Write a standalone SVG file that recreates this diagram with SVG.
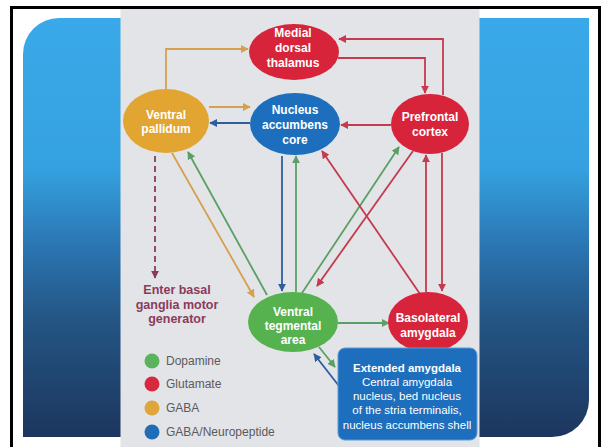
<svg xmlns="http://www.w3.org/2000/svg" width="606" height="447" viewBox="0 0 606 447">
  <style>
    .nt { font-family: "Liberation Sans", Arial, sans-serif; font-size: 12px; font-weight: bold; fill: #ffffff; text-anchor: middle; }
    .lg { font-family: "Liberation Sans", Arial, sans-serif; font-size: 12px; fill: #5a5a5e; }
    .en { font-family: "Liberation Sans", Arial, sans-serif; font-size: 12.5px; font-weight: bold; fill: #8c3a5c; text-anchor: middle; }
    .bx { font-family: "Liberation Sans", Arial, sans-serif; font-size: 11.5px; fill: #ffffff; text-anchor: middle; }
    .c { fill: none; stroke-width: 1.8; }
    .o { stroke: #d6a050; }
    .r { stroke: #c43a50; }
    .g { stroke: #5c9f66; }
    .b { stroke: #2f5e9e; }
    .p { stroke: #8c3a5c; stroke-dasharray: 6 4; }
  </style>
  <defs>
    <linearGradient id="panelGrad" x1="0" y1="18" x2="0" y2="437" gradientUnits="userSpaceOnUse">
      <stop offset="0" stop-color="#3aa9e9"/>
      <stop offset="0.36" stop-color="#35a1e0"/>
      <stop offset="0.55" stop-color="#2a74b0"/>
      <stop offset="0.72" stop-color="#245584"/>
      <stop offset="1" stop-color="#1c365e"/>
    </linearGradient>
    <marker id="aO" viewBox="0 0 10 10" refX="9" refY="5" markerWidth="4.5" markerHeight="4.5" orient="auto" markerUnits="strokeWidth"><path d="M0,0 L10,5 L0,10 Z" fill="#d6a050"/></marker>
    <marker id="aR" viewBox="0 0 10 10" refX="9" refY="5" markerWidth="4.5" markerHeight="4.5" orient="auto" markerUnits="strokeWidth"><path d="M0,0 L10,5 L0,10 Z" fill="#c43a50"/></marker>
    <marker id="aG" viewBox="0 0 10 10" refX="9" refY="5" markerWidth="4.5" markerHeight="4.5" orient="auto" markerUnits="strokeWidth"><path d="M0,0 L10,5 L0,10 Z" fill="#5c9f66"/></marker>
    <marker id="aB" viewBox="0 0 10 10" refX="9" refY="5" markerWidth="4.5" markerHeight="4.5" orient="auto" markerUnits="strokeWidth"><path d="M0,0 L10,5 L0,10 Z" fill="#2f5e9e"/></marker>
    <marker id="aP" viewBox="0 0 10 10" refX="9" refY="5" markerWidth="4.5" markerHeight="4.5" orient="auto" markerUnits="strokeWidth"><path d="M0,0 L10,5 L0,10 Z" fill="#8c3a5c"/></marker>
  </defs>

  <!-- frame and background -->
  <rect x="0" y="0" width="606" height="447" fill="#ffffff"/>
  <rect x="11.5" y="7.5" width="588" height="470" fill="#ffffff" stroke="#000000" stroke-width="3"/>
  <path d="M59,18 H589 V400 A37,37 0 0 1 552,437 H23 V54 A36,36 0 0 1 59,18 Z" fill="url(#panelGrad)"/>
  <rect x="120.5" y="9" width="359" height="438" fill="#e2e4e7"/>

  <!-- connectors -->
  <g id="connectors">
    <path class="c o" d="M166,89 V49 H248" marker-end="url(#aO)"/>
    <path class="c o" d="M209,107 H250" marker-end="url(#aO)"/>
    <path class="c b" d="M250,123 H210" marker-end="url(#aB)"/>
    <path class="c r" d="M443,95 V39 H339" marker-end="url(#aR)"/>
    <path class="c r" d="M338,58 H425 V93" marker-end="url(#aR)"/>
    <path class="c r" d="M391,125 H341" marker-end="url(#aR)"/>
    <path class="c p" d="M155,156 V278" marker-end="url(#aP)"/>
    <path class="c o" d="M172,153 L254,297" marker-end="url(#aO)"/>
    <path class="c g" d="M267,295 L188,152" marker-end="url(#aG)"/>
    <path class="c b" d="M282,156 V291" marker-end="url(#aB)"/>
    <path class="c g" d="M296,292 V156" marker-end="url(#aG)"/>
    <path class="c g" d="M302,293 L399,147" marker-end="url(#aG)"/>
    <path class="c r" d="M413,151 L317,286" marker-end="url(#aR)"/>
    <path class="c r" d="M420,294 L322,151" marker-end="url(#aR)"/>
    <path class="c r" d="M426,292 V155" marker-end="url(#aR)"/>
    <path class="c r" d="M442,153 V291" marker-end="url(#aR)"/>
    <path class="c g" d="M338,323 H389" marker-end="url(#aG)"/>
    <path class="c g" d="M319,347 L335,367" marker-end="url(#aG)"/>
    <path class="c b" d="M339,386 L314,354" marker-end="url(#aB)"/>
  </g>

  <!-- nodes -->
  <g id="medial-dorsal-thalamus">
    <ellipse cx="294" cy="52" rx="45" ry="28" fill="#d8243b"/>
    <text class="nt" x="293" y="37">Medial</text>
    <text class="nt" x="293" y="52">dorsal</text>
    <text class="nt" x="293" y="67">thalamus</text>
  </g>
  <g id="ventral-pallidum">
    <ellipse cx="166" cy="121" rx="43" ry="32" fill="#e2a532"/>
    <text class="nt" x="166" y="119">Ventral</text>
    <text class="nt" x="166" y="133">pallidum</text>
  </g>
  <g id="nucleus-accumbens-core">
    <ellipse cx="295" cy="124" rx="45" ry="31" fill="#1d6fbd"/>
    <text class="nt" x="295" y="114">Nucleus</text>
    <text class="nt" x="295" y="129">accumbens</text>
    <text class="nt" x="295" y="144">core</text>
  </g>
  <g id="prefrontal-cortex">
    <ellipse cx="430" cy="124" rx="39" ry="30" fill="#d8243b"/>
    <text class="nt" x="430" y="121">Prefrontal</text>
    <text class="nt" x="430" y="136">cortex</text>
  </g>
  <g id="ventral-tegmental-area">
    <ellipse cx="293" cy="322" rx="45" ry="30" fill="#56b14f"/>
    <text class="nt" x="293" y="316">Ventral</text>
    <text class="nt" x="293" y="330">tegmental</text>
    <text class="nt" x="293" y="344">area</text>
  </g>
  <g id="basolateral-amygdala">
    <ellipse cx="428" cy="322" rx="40" ry="30" fill="#d8243b"/>
    <text class="nt" x="428" y="322">Basolateral</text>
    <text class="nt" x="428" y="337">amygdala</text>
  </g>
  <g id="extended-amygdala">
    <rect x="338" y="348" width="139" height="92" rx="7" fill="#1d6ebd" stroke="#5a9ad6" stroke-width="1"/>
    <text class="bx" x="407" y="372" font-weight="bold">Extended amygdala</text>
    <text class="bx" x="407" y="386">Central amygdala</text>
    <text class="bx" x="407" y="400">nucleus, bed nucleus</text>
    <text class="bx" x="407" y="414">of the stria terminalis,</text>
    <text class="bx" x="407" y="429">nucleus accumbens shell</text>
  </g>
  <g id="motor-generator">
    <text class="en" x="177" y="294">Enter basal</text>
    <text class="en" x="177" y="309">ganglia motor</text>
    <text class="en" x="177" y="323">generator</text>
  </g>

  <!-- legend -->
  <g id="legend">
    <circle cx="152" cy="361" r="7.5" fill="#5bb35e"/>
    <text class="lg" x="166" y="365">Dopamine</text>
    <circle cx="152" cy="384" r="7.5" fill="#d7283f"/>
    <text class="lg" x="166" y="388">Glutamate</text>
    <circle cx="152" cy="408" r="7.5" fill="#e0a53a"/>
    <text class="lg" x="166" y="412">GABA</text>
    <circle cx="152" cy="432" r="7.5" fill="#1f6db5"/>
    <text class="lg" x="166" y="436">GABA/Neuropeptide</text>
  </g>
</svg>
